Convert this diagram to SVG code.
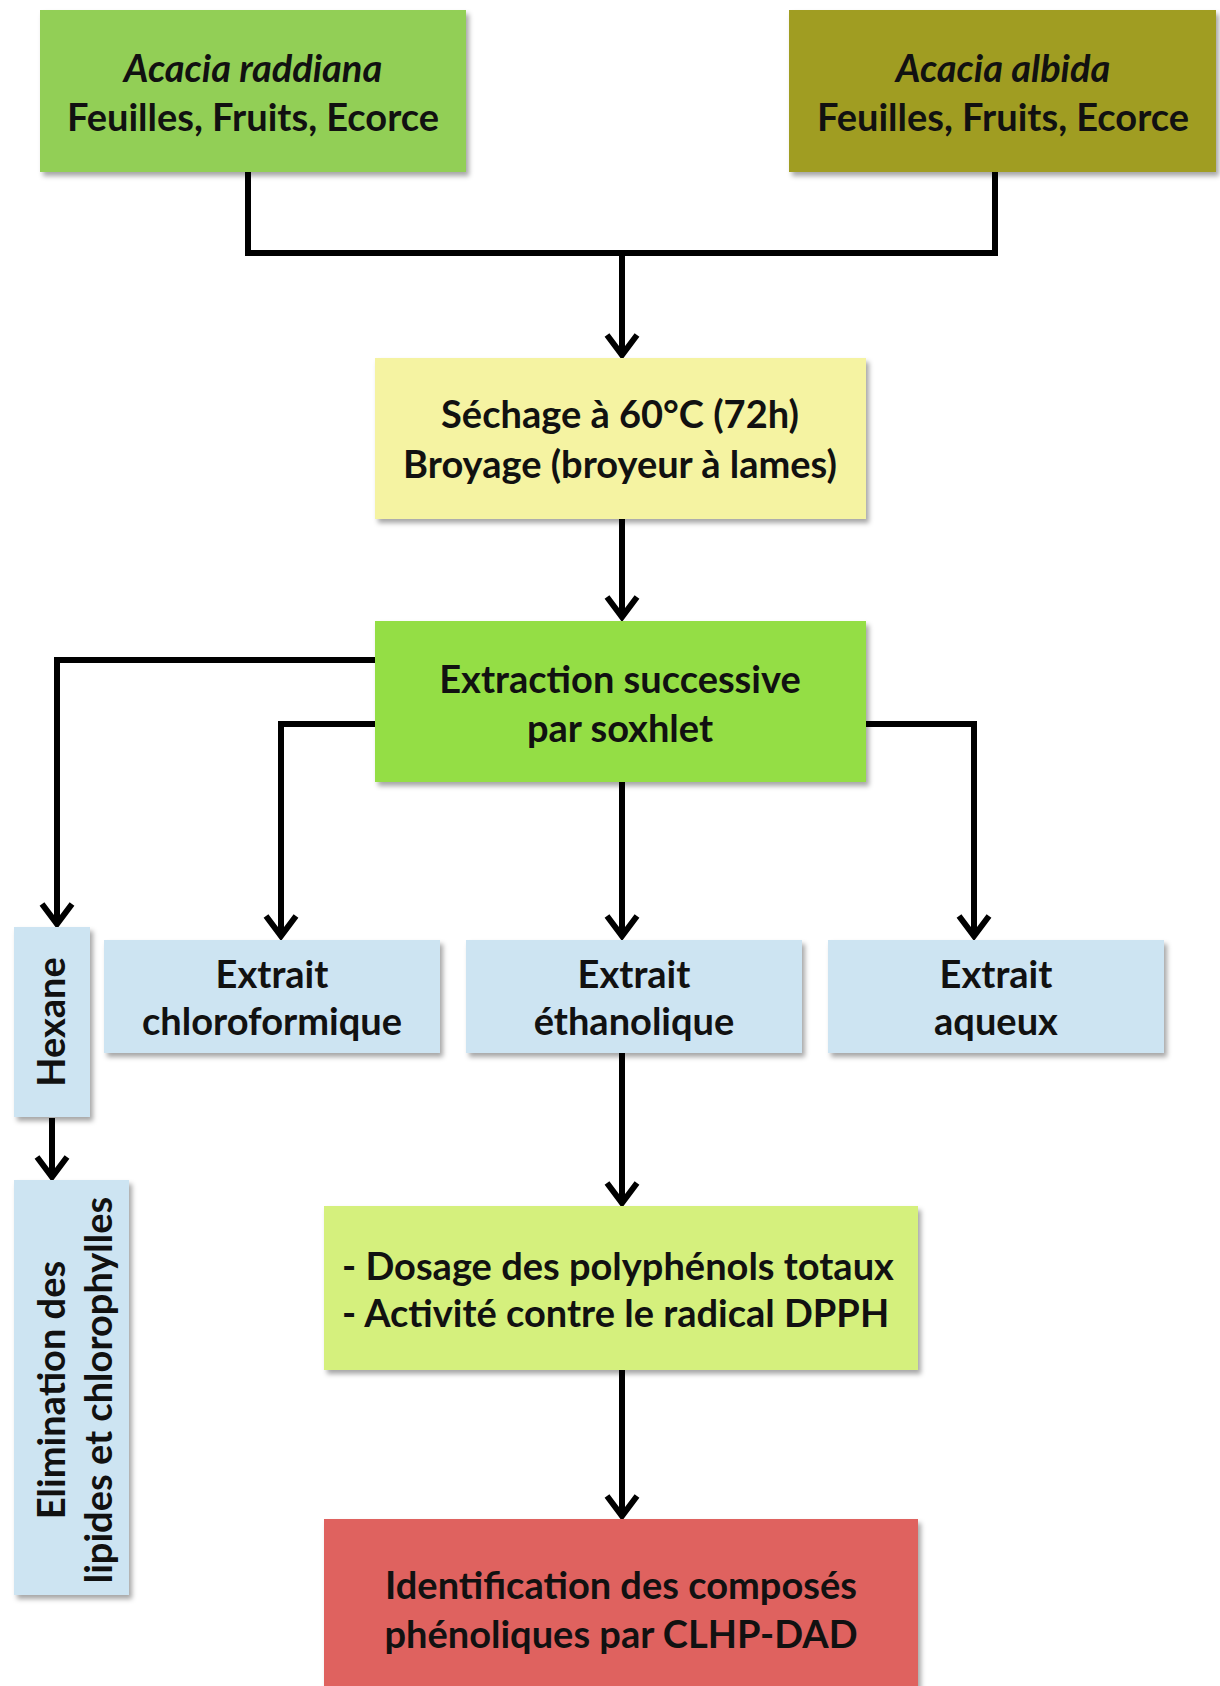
<svg xmlns="http://www.w3.org/2000/svg" width="1220" height="1686" viewBox="0 0 1220 1686">
<defs>
<filter id="sh" x="-10%" y="-10%" width="125%" height="130%">
<feDropShadow dx="3" dy="4" stdDeviation="2.5" flood-color="#000" flood-opacity="0.35"/>
</filter>
<marker id="arr" markerUnits="userSpaceOnUse" markerWidth="40" markerHeight="40" viewBox="-30 -20 40 40" refX="0" refY="0" orient="auto" overflow="visible">
<path d="M-20,-15 L0,0 L-20,15" fill="none" stroke="#000" stroke-width="6" stroke-linejoin="miter"/>
</marker>
</defs>
<style>
.box{filter:url(#sh);}
.t{font-family:"Lato","Open Sans","Liberation Sans",sans-serif;font-weight:bold;font-size:38px;fill:#111;text-anchor:middle;}
.i{font-style:italic;}
.l{text-anchor:start;}
.c{fill:none;stroke:#000;stroke-width:6;stroke-linejoin:miter;}
.a{marker-end:url(#arr);}
</style>
<rect width="1220" height="1686" fill="#fff"/>
<g id="connectors">
<path class="c" d="M248,172 V253 H995 V172"/>
<path class="c a" d="M622,253 V355"/>
<path class="c a" d="M622,519 V617"/>
<path class="c a" d="M375,660 H57 V924"/>
<path class="c a" d="M375,724 H281 V936"/>
<path class="c a" d="M622,782 V936"/>
<path class="c a" d="M866,724 H974 V936"/>
<path class="c a" d="M52,1118 V1177"/>
<path class="c a" d="M622,1053 V1203"/>
<path class="c a" d="M622,1370 V1516"/>
</g>
<g id="raddiana">
<rect class="box" x="40" y="10" width="426" height="162" fill="#92cf56"/>
<text class="t i" x="253" y="82">Acacia raddiana</text>
<text class="t" x="253" y="131">Feuilles, Fruits, Ecorce</text>
</g>
<g id="albida">
<rect class="box" x="789" y="10" width="427" height="162" fill="#a09d22"/>
<text class="t i" x="1003" y="82">Acacia albida</text>
<text class="t" x="1003" y="131">Feuilles, Fruits, Ecorce</text>
</g>
<g id="sechage">
<rect class="box" x="375" y="358" width="491" height="161" fill="#f5f3a2"/>
<text class="t" x="620" y="428">Séchage à 60°C (72h)</text>
<text class="t" x="620" y="478">Broyage (broyeur à lames)</text>
</g>
<g id="extraction">
<rect class="box" x="375" y="621" width="491" height="161" fill="#94de45"/>
<text class="t" x="620" y="693">Extraction successive</text>
<text class="t" x="620" y="742">par soxhlet</text>
</g>
<g id="hexane">
<rect class="box" x="14" y="927" width="76" height="190" fill="#cde4f2"/>
<text class="t" transform="translate(52,1022) rotate(-90)" x="0" y="13">Hexane</text>
</g>
<g id="chloroformique">
<rect class="box" x="104" y="940" width="336" height="113" fill="#cde4f2"/>
<text class="t" x="272" y="988">Extrait</text>
<text class="t" x="272" y="1035">chloroformique</text>
</g>
<g id="ethanolique">
<rect class="box" x="466" y="940" width="336" height="113" fill="#cde4f2"/>
<text class="t" x="634" y="988">Extrait</text>
<text class="t" x="634" y="1035">éthanolique</text>
</g>
<g id="aqueux">
<rect class="box" x="828" y="940" width="336" height="113" fill="#cde4f2"/>
<text class="t" x="996" y="988">Extrait</text>
<text class="t" x="996" y="1035">aqueux</text>
</g>
<g id="elimination">
<rect class="box" x="14" y="1180" width="115" height="415" fill="#cde4f2"/>
<text class="t" transform="translate(52,1390) rotate(-90)" x="0" y="13">Elimination des</text>
<text class="t" transform="translate(99,1390) rotate(-90)" x="0" y="13">lipides et chlorophylles</text>
</g>
<g id="dosage">
<rect class="box" x="324" y="1206" width="594" height="164" fill="#d5f07d"/>
<text class="t l" x="342" y="1280">- Dosage des polyphénols totaux</text>
<text class="t l" x="342" y="1327">- Activité contre le radical DPPH</text>
</g>
<g id="identification">
<rect class="box" x="324" y="1519" width="594" height="175" fill="#df625e"/>
<text class="t" x="621" y="1599">Identification des composés</text>
<text class="t" x="621" y="1648">phénoliques par CLHP-DAD</text>
</g>
</svg>
